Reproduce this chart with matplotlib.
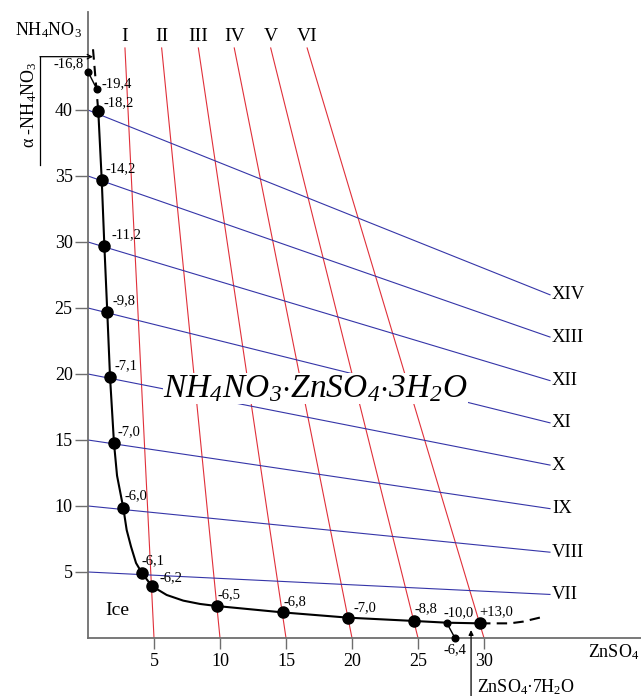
import matplotlib
matplotlib.use('Agg')
import matplotlib.pyplot as plt

plt.rcParams['font.family'] = ['Liberation Serif', 'DejaVu Serif']
plt.rcParams['mathtext.fontset'] = 'custom'
plt.rcParams['mathtext.rm'] = 'Liberation Serif'
plt.rcParams['mathtext.it'] = 'Liberation Serif:italic'
# sf slot used for the italic formula so that digits stay italic too
plt.rcParams['mathtext.sf'] = 'Liberation Serif:italic'

# isotherm-like red lines (ZnSO4 sections)
red_names = ['I', 'II', 'III', 'IV', 'V', 'VI']
red_bottom_x = [5, 10, 15, 20, 25, 30]
red_top_x = [2.8, 5.58, 8.36, 11.08, 13.84, 16.6]
red_top_y = 44.7

# blue lines (NH4NO3 sections)
blue_names = ['VII', 'VIII', 'IX', 'X', 'XI', 'XII', 'XIII', 'XIV']
blue_start_y = [5, 10, 15, 20, 25, 30, 35, 40]
blue_end_y = [3.3, 6.5, 9.8, 13.1, 16.3, 19.5, 22.8, 26.0]
blue_end_x = 35

# crystallization curve
curve_x = [0.78, 1.04, 1.24, 1.46, 1.67, 1.97, 2.2, 2.68, 2.93, 3.26, 3.64, 4.07, 4.83,
           5.96, 7.22, 8.48, 9.77, 14.75, 19.72, 24.72, 27.17, 29.7]
curve_y = [39.9, 34.7, 29.7, 24.7, 19.75, 14.75, 12.3, 9.82, 8.18, 6.92, 5.68, 4.95, 3.94,
           3.26, 2.83, 2.58, 2.42, 1.94, 1.54, 1.29, 1.16, 1.11]

big_x = [0.78, 1.04, 1.24, 1.46, 1.67, 1.97, 2.68, 4.07, 4.83, 9.77, 14.75, 19.72, 24.72, 29.7]
big_y = [39.9, 34.7, 29.7, 24.7, 19.75, 14.75, 9.82, 4.95, 3.94, 2.42, 1.94, 1.54, 1.29, 1.11]
big_labels = ['-18,2', '-14,2', '-11,2', '-9,8', '-7,1', '-7,0', '-6,0', '-6,1', '-6,2',
              '-6,5', '-6,8', '-7,0', '-8,8', '+13,0']

small_x = [0.02, 0.66, 27.17, 27.8]
small_y = [42.86, 41.6, 1.16, 0.0]
small_labels = ['-16,8', '-19,4', '-10,0', '-6,4']

dash_top_x = [0.38, 0.78]
dash_top_y = [44.6, 39.9]
dash_end_x = [29.7, 31.97, 32.95, 34.5]
dash_end_y = [1.11, 1.11, 1.24, 1.61]

# label offsets in pixels
big_off = [(5, 9), (4, 11), (7, 11), (5, 11), (4, 12), (3, 12), (1, 13), (0, 12), (8, 8),
           (1, 11), (1, 11), (5, 10), (0, 12), (-1, 12)]
small_off = [(-5, 9, 'right'), (5, 5, 'left'), (-3, 10, 'left'), (0, -12, 'center')]

fig = plt.figure(figsize=(6.41, 6.96), dpi=100)
ax = fig.add_axes([88 / 641, 58 / 696, 553 / 641, 626 / 696])
ax.set_xlim(0, 553 / 13.2)
ax.set_ylim(0, 626 / 13.2)

for sp in ['top', 'right']:
    ax.spines[sp].set_visible(False)
for sp in ['left', 'bottom']:
    ax.spines[sp].set_color('#6e6e6e')
    ax.spines[sp].set_linewidth(1.3)

ax.set_xticks([5, 10, 15, 20, 25, 30])
ax.set_yticks([5, 10, 15, 20, 25, 30, 35, 40])
ax.tick_params(axis='x', length=8, width=1, color='#6e6e6e', labelsize=13, pad=3)
ax.tick_params(axis='y', length=9.5, width=1, color='#6e6e6e', labelsize=13, pad=1.5)

for i in range(len(red_names)):
    ax.plot([red_top_x[i], red_bottom_x[i]], [red_top_y, 0], color='#e0303a', lw=0.8)
    ax.text(red_top_x[i], red_top_y + 0.25, red_names[i], ha='center', va='bottom', fontsize=14)

for i in range(len(blue_names)):
    ax.plot([0, blue_end_x], [blue_start_y[i], blue_end_y[i]], color='#3535a8', lw=0.8)
    ax.text(blue_end_x + 0.15, blue_end_y[i], blue_names[i], ha='left', va='center', fontsize=13.5)

ax.plot(curve_x, curve_y, color='black', lw=1.5, zorder=4)
ax.plot(dash_top_x, dash_top_y, color='black', lw=1.5, ls=(0, (5, 3)), zorder=4)
ax.plot(dash_end_x, dash_end_y, color='black', lw=1.5, ls=(0, (5, 3)), zorder=4)
ax.plot(small_x[:2], small_y[:2], color='black', lw=1, zorder=4, clip_on=False)
ax.plot(small_x[2:], small_y[2:], color='black', lw=1, zorder=4, clip_on=False)

ax.plot(big_x, big_y, 'o', color='black', ms=8, zorder=5)
ax.plot(small_x, small_y, 'o', color='black', ms=4.8, zorder=5, clip_on=False)

for i in range(len(big_labels)):
    ax.annotate(big_labels[i], (big_x[i], big_y[i]), xytext=big_off[i], textcoords='offset pixels',
                ha='left', va='center', fontsize=10.5, zorder=6)
for i in range(len(small_labels)):
    dx, dy, h = small_off[i]
    ax.annotate(small_labels[i], (small_x[i], small_y[i]), xytext=(dx, dy), textcoords='offset pixels',
                ha=h, va='center', fontsize=10.5, zorder=6)

ax.text(5.68, 18.26, r'$\mathsf{NH_4NO_3{\cdot}ZnSO_4{\cdot}3H_2O}$', fontsize=24,
        ha='left', va='baseline', zorder=3,
        bbox=dict(facecolor='white', edgecolor='none', pad=0))

ax.text(1.29, 2.12, 'Ice', fontsize=14, ha='left', va='center')

# axis names
ax.text(-3.03, 46.06, r'NH$_4$NO$_3$', fontsize=13, ha='center', va='center', clip_on=False)
ax.text(-4.47, 40.38, r'α -NH$_4$NO$_3$', fontsize=13, rotation=90, ha='center', va='center', clip_on=False)
ax.plot([-3.64, -3.64], [35.83, 44.04], color='black', lw=0.9, clip_on=False)
ax.annotate('', xy=(0.38, 44.04), xytext=(-3.64, 44.04),
            arrowprops=dict(arrowstyle='->', lw=0.9, color='black', mutation_scale=8,
                            shrinkA=0, shrinkB=0), annotation_clip=False)

ax.text(37.9, -1.06, r'ZnSO$_4$', fontsize=13, ha='left', va='center', clip_on=False)
ax.annotate('', xy=(29.02, 0.6), xytext=(29.02, -4.5),
            arrowprops=dict(arrowstyle='-|>', lw=0.9, color='black', mutation_scale=7,
                            shrinkA=0, shrinkB=0), annotation_clip=False)
ax.text(29.47, -3.71, r'ZnSO$_4$·7H$_2$O', fontsize=13, ha='left', va='center', clip_on=False)

fig.savefig('out.png', dpi=100)
